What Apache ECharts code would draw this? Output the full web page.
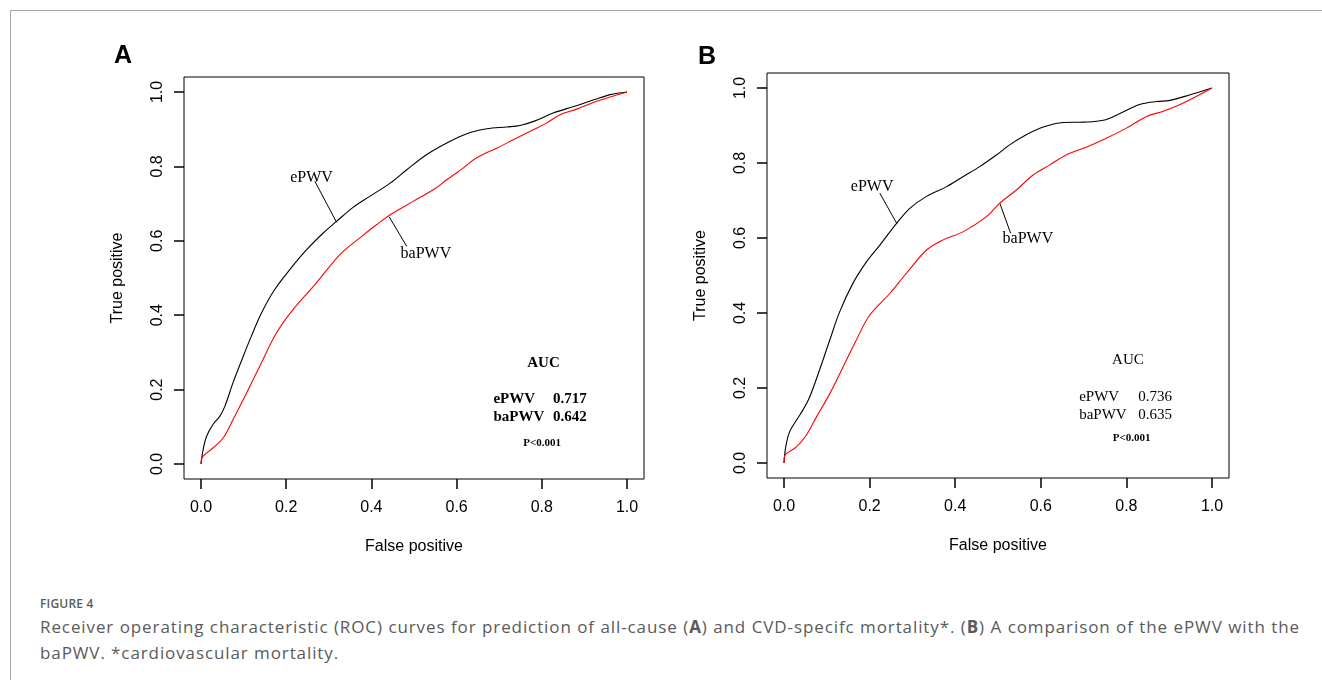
<!DOCTYPE html>
<html>
<head>
<meta charset="utf-8">
<script src="https://cdn.jsdelivr.net/npm/echarts@6/dist/echarts.min.js"></script>
<style>
  html, body { margin: 0; padding: 0; background: #fff; overflow: hidden; }
  #frame { position: absolute; left: 10px; top: 10px; width: 1311px; height: 669px;
           border-left: 1px solid #a8a8a8; border-top: 1px solid #a8a8a8; }
  #main { position: absolute; left: 0; top: 0; width: 1322px; height: 590px; }
  #cap { position: absolute; left: 40px; top: 594px; width: 1260px; color: #5a5a5a;
         font-family: "Open Sans", sans-serif; }
  #cap .fig { font-size: 12px; font-weight: 600; line-height: 20px; letter-spacing: 0.2px; }
  #cap .ln { font-size: 17px; line-height: 26px; letter-spacing: 0.9px; white-space: nowrap; }
  #cap .j { text-align: justify; text-align-last: justify; }
</style>
</head>
<body>
<div id="frame"></div>
<div id="main"></div>
<div id="cap">
  <div class="fig">FIGURE 4</div>
  <div class="ln j">Receiver operating characteristic (ROC) curves for prediction of all-cause (<b>A</b>) and CVD-specifc mortality*. (<b>B</b>) A comparison of the ePWV with the</div>
  <div class="ln">baPWV. *cardiovascular mortality.</div>
</div>
<script>
// panel A - all-cause mortality
var fprA_ePWV = [0, 0.005, 0.013, 0.028, 0.044, 0.056, 0.075, 0.099, 0.118, 0.142, 0.173, 0.208, 0.248, 0.287, 0.318, 0.357, 0.397, 0.444, 0.483, 0.530, 0.577, 0.624, 0.671, 0.718, 0.749, 0.781, 0.828, 0.875, 0.922, 0.961, 1];
var tprA_ePWV = [0, 0.039, 0.074, 0.106, 0.128, 0.155, 0.218, 0.289, 0.343, 0.406, 0.469, 0.522, 0.576, 0.621, 0.652, 0.690, 0.720, 0.755, 0.791, 0.832, 0.863, 0.888, 0.901, 0.906, 0.910, 0.921, 0.944, 0.961, 0.979, 0.993, 1];
var fprA_baPWV = [0, 0.002, 0.028, 0.052, 0.075, 0.107, 0.138, 0.177, 0.216, 0.271, 0.326, 0.373, 0.412, 0.444, 0.498, 0.545, 0.577, 0.616, 0.647, 0.694, 0.734, 0.781, 0.812, 0.843, 0.882, 0.929, 1];
var tprA_baPWV = [0, 0.016, 0.043, 0.070, 0.119, 0.191, 0.263, 0.352, 0.415, 0.487, 0.563, 0.608, 0.643, 0.670, 0.706, 0.737, 0.764, 0.796, 0.823, 0.849, 0.872, 0.899, 0.917, 0.939, 0.954, 0.975, 1];

// panel B - CVD-specific mortality
var fprB_ePWV = [0, 0.004, 0.013, 0.029, 0.044, 0.060, 0.083, 0.107, 0.130, 0.161, 0.193, 0.224, 0.263, 0.294, 0.333, 0.380, 0.419, 0.458, 0.497, 0.528, 0.567, 0.606, 0.652, 0.699, 0.746, 0.785, 0.831, 0.871, 0.902, 0.949, 1];
var tprB_ePWV = [0, 0.043, 0.083, 0.114, 0.141, 0.176, 0.248, 0.328, 0.403, 0.479, 0.537, 0.581, 0.639, 0.679, 0.711, 0.737, 0.764, 0.791, 0.822, 0.849, 0.876, 0.896, 0.908, 0.909, 0.914, 0.932, 0.956, 0.964, 0.967, 0.982, 1];
var fprB_baPWV = [0, 0.002, 0.029, 0.052, 0.076, 0.107, 0.138, 0.169, 0.200, 0.247, 0.286, 0.333, 0.372, 0.419, 0.473, 0.504, 0.543, 0.582, 0.621, 0.660, 0.706, 0.753, 0.800, 0.847, 0.886, 0.933, 1];
var tprB_baPWV = [0, 0.020, 0.043, 0.074, 0.123, 0.185, 0.256, 0.328, 0.394, 0.452, 0.506, 0.568, 0.595, 0.617, 0.657, 0.693, 0.728, 0.768, 0.795, 0.822, 0.842, 0.866, 0.893, 0.924, 0.938, 0.960, 1];

// AUC table
var aucNames = ["ePWV", "baPWV"];
var aucA = ["0.717", "0.642"];
var aucB = ["0.736", "0.635"];
var pText = "P<0.001";

function pairs(xs, ys) {
  return xs.map(function (x, i) { return [x, ys[i]]; });
}

var sans = '"Liberation Sans", Arial, sans-serif';
var serif = '"Liberation Serif", "Times New Roman", serif';

// data axes 0..1, pushed out to the surrounding box like R's axis()
function xAx(g, off) {
  return {
    type: 'value', gridIndex: g, min: 0, max: 1, interval: 0.2, offset: off,
    name: 'False positive', nameLocation: 'middle', nameGap: 60,
    nameTextStyle: { color: '#000', fontFamily: sans, fontSize: 16 },
    axisLine: { show: false, onZero: false },
    splitLine: { show: false },
    axisTick: { show: true, length: 10, lineStyle: { color: '#000', width: 1.5 } },
    axisLabel: { margin: 21, color: '#000', fontFamily: sans, fontSize: 16,
      formatter: function (v) { return v.toFixed(1); } }
  };
}
function yAx(g, off) {
  return {
    type: 'value', gridIndex: g, min: 0, max: 1, interval: 0.2, offset: off,
    name: 'True positive', nameLocation: 'middle', nameGap: 58,
    nameTextStyle: { color: '#000', fontFamily: sans, fontSize: 16 },
    axisLine: { show: false, onZero: false },
    splitLine: { show: false },
    axisTick: { show: true, length: 10, lineStyle: { color: '#000', width: 1.5 } },
    axisLabel: { margin: 18, rotate: 90, color: '#000', fontFamily: sans, fontSize: 16,
      formatter: function (v) { return v.toFixed(1); } }
  };
}
// hidden axes for the box frames
function hid(g) { return { type: 'value', gridIndex: g, min: 0, max: 1, show: false }; }

function curve(g, name, data, color) {
  return {
    name: name, type: 'line', xAxisIndex: g, yAxisIndex: g, data: data,
    showSymbol: false, smooth: 0.35, clip: false,
    lineStyle: { color: color, width: 1.1 }, itemStyle: { color: color }
  };
}

var chart = echarts.init(document.getElementById('main'));
chart.setOption({
  animation: false,
  grid: [
    // data areas
    { left: 201, top: 92, width: 426, height: 372 },
    { left: 784, top: 88, width: 428, height: 375 },
    // plot boxes (4% wider than the data)
    { left: 184, top: 77, width: 460, height: 402, show: true, borderColor: '#000', borderWidth: 1 },
    { left: 767, top: 73, width: 462, height: 405, show: true, borderColor: '#000', borderWidth: 1 }
  ],
  xAxis: [xAx(0, 15), xAx(1, 15), hid(2), hid(3)],
  yAxis: [yAx(0, 17), yAx(1, 17), hid(2), hid(3)],
  series: [
    curve(0, 'ePWV', pairs(fprA_ePWV, tprA_ePWV), '#000'),
    curve(0, 'baPWV', pairs(fprA_baPWV, tprA_baPWV), '#ff0000'),
    curve(1, 'ePWV', pairs(fprB_ePWV, tprB_ePWV), '#000'),
    curve(1, 'baPWV', pairs(fprB_baPWV, tprB_baPWV), '#ff0000')
  ]
});

// annotations placed in data space, converted through the grid
function px(g, x, y) { return chart.convertToPixel({ gridIndex: g }, [x, y]); }
function txt(g, x, y, s, font, align) {
  var p = px(g, x, y);
  return { type: 'text', x: p[0], y: p[1], style: { text: s, font: font, fill: '#000', align: align || 'center', verticalAlign: 'middle' } };
}
function seg(g, a, b) {
  var p = px(g, a[0], a[1]), q = px(g, b[0], b[1]);
  return { type: 'line', shape: { x1: p[0], y1: p[1], x2: q[0], y2: q[1] }, style: { stroke: '#000', lineWidth: 1 } };
}

var labFont = '16px ' + serif;
var boldA = 'bold 15px ' + serif;
var regB = '15px ' + serif;
var pFont = 'bold 11px ' + serif;

chart.setOption({ graphic: [
  { type: 'text', x: 123, y: 56, style: { text: 'A', font: 'bold 25px ' + sans, fill: '#000', align: 'center', verticalAlign: 'middle' } },
  { type: 'text', x: 707, y: 57, style: { text: 'B', font: 'bold 25px ' + sans, fill: '#000', align: 'center', verticalAlign: 'middle' } },
  // panel A curve labels
  txt(0, 0.2595, 0.769, 'ePWV', labFont),
  seg(0, [0.2673, 0.760], [0.3183, 0.6495]),
  txt(0, 0.528, 0.565, 'baPWV', labFont),
  seg(0, [0.442, 0.664], [0.483, 0.585]),
  // panel A AUC
  txt(0, 0.804, 0.2715, 'AUC', boldA),
  txt(0, 0.6864, 0.1747, aucNames[0], boldA, 'left'),
  txt(0, 0.826, 0.1747, aucA[0], boldA, 'left'),
  txt(0, 0.6864, 0.1253, aucNames[1], boldA, 'left'),
  txt(0, 0.826, 0.1253, aucA[1], boldA, 'left'),
  txt(0, 0.801, 0.0565, pText, pFont),
  // panel B curve labels
  txt(1, 0.206, 0.7356, 'ePWV', labFont),
  seg(1, [0.2238, 0.7196], [0.2642, 0.6375]),
  txt(1, 0.5698, 0.5975, 'baPWV', labFont),
  seg(1, [0.5043, 0.6928], [0.5294, 0.6127]),
  // panel B AUC
  txt(1, 0.8036, 0.2746, 'AUC', regB),
  txt(1, 0.6897, 0.1763, aucNames[0], regB, 'left'),
  txt(1, 0.8277, 0.1763, aucB[0], regB, 'left'),
  txt(1, 0.6897, 0.1274, aucNames[1], regB, 'left'),
  txt(1, 0.8277, 0.1274, aucB[1], regB, 'left'),
  txt(1, 0.8123, 0.0652, pText, pFont)
] });
</script>
</body>
</html>
